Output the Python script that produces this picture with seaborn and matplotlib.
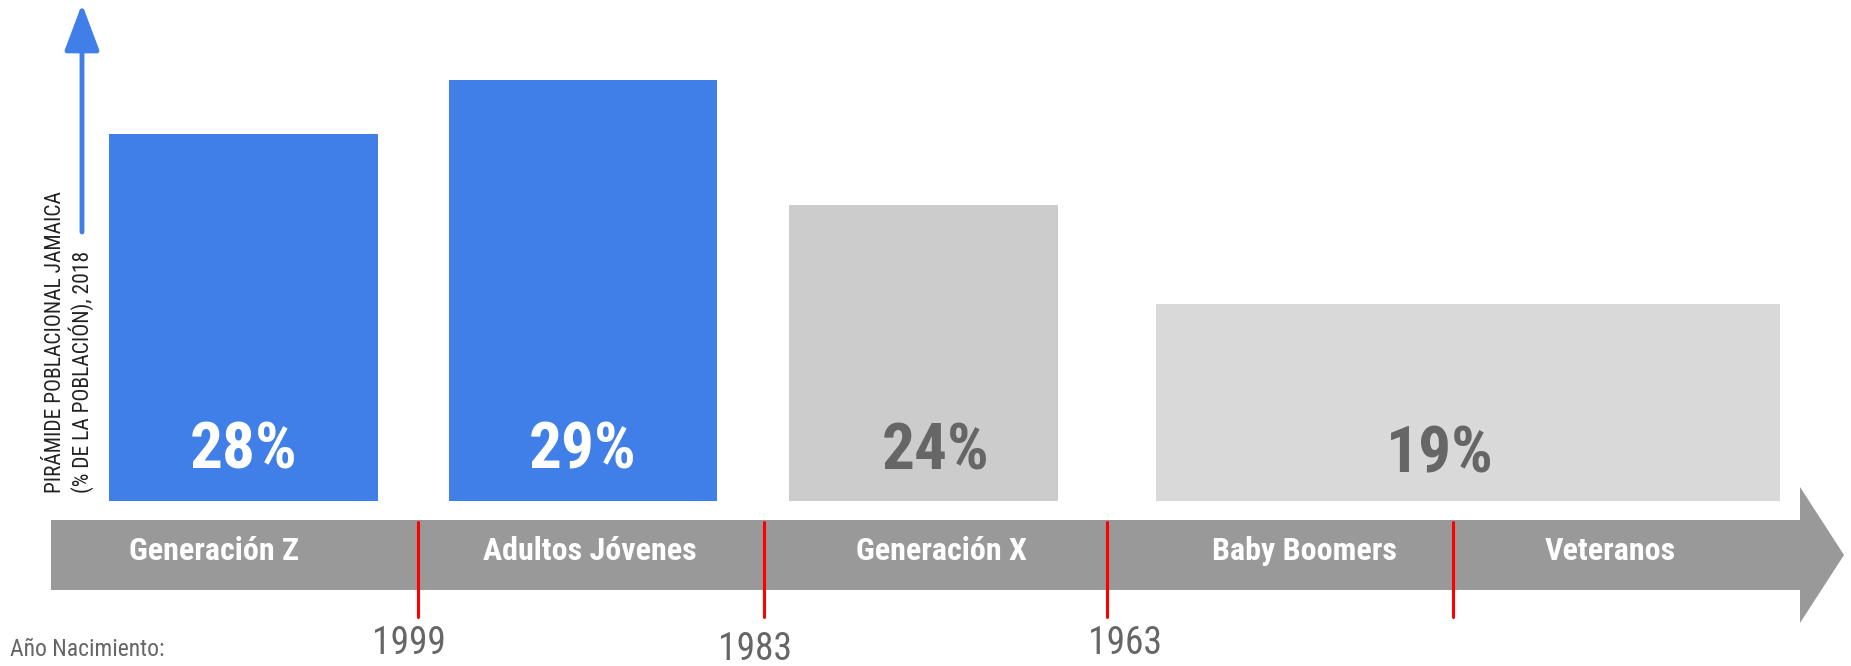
import numpy as np
import matplotlib
matplotlib.use("Agg")
import matplotlib.pyplot as plt
from matplotlib.patches import Polygon
import seaborn as sns

# data
generations = ["Generación Z", "Adultos Jóvenes", "Generación X", "Baby Boomers", "Veteranos"]
pct_labels = ["28%", "29%", "24%", "19%"]
bar_heights = [25.3, 29.0, 20.4, 13.6]   # drawn heights (same scale as the 29% bar)
birth_years = ["1999", "1983", "1963", ""]
ylabel_lines = ["PIRÁMIDE POBLACIONAL JAMAICA", "(% DE LA POBLACIÓN), 2018"]

# layout (pixel units of the 1851x666 canvas)
bar_left = [109, 449, 789, 1156]
bar_right = [378, 717, 1058, 1780]
pct_pos = [(244, 3.45), (583, 3.45), (936, 3.38), (1440, 3.17)]
label_x = [214, 590, 941, 1304, 1610]
divider_x = [418, 764, 1107, 1453]
year_pos = [(409, 644), (755, 650), (1125, 644)]

BLUE = "#3F7FE7"
bar_colors = [BLUE, BLUE, "#CCCCCC", "#D9D9D9"]
pct_colors = ["white", "white", "#666666", "#666666"]

sns.set_theme(style="white")
FAM = ["Roboto Condensed", "Roboto", "DejaVu Sans"]
plt.rcParams["font.family"] = FAM

fig = plt.figure(figsize=(18.51, 6.66), dpi=100)

# background axes in pixel coordinates for the timeline decoration
bg = fig.add_axes([0, 0, 1, 1])
bg.set_xlim(0, 1851)
bg.set_ylim(666, 0)
bg.axis("off")

# bars
axb = fig.add_axes([0, (666 - 501) / 666, 1, 501 / 666])
sns.barplot(x=generations[:4], y=bar_heights, hue=generations[:4], palette=bar_colors,
            saturation=1, legend=False, errorbar=None, linewidth=0, ax=axb)
for p, l, r in zip(axb.patches, bar_left, bar_right):
    p.set_x(l)
    p.set_width(r - l)
axb.set_xlim(0, 1851)
axb.set_ylim(0, 34.5)
axb.axis("off")
axb.patch.set_alpha(0)

for (x, y), t, c in zip(pct_pos, pct_labels, pct_colors):
    axb.text(x, y, t, ha="center", va="center", fontsize=47,
             fontweight="bold", color=c)

# timeline arrow band
band = Polygon([(51, 520), (1800, 520), (1800, 487), (1844, 555), (1800, 623),
                (1800, 590), (51, 590)], closed=True, facecolor="#999999",
               edgecolor="none", zorder=1)
bg.add_patch(band)

for x, g in zip(label_x, generations):
    bg.text(x, 551, g, ha="center", va="center", fontsize=23, fontweight="bold",
            color="white", zorder=3)

for x in divider_x:
    bg.plot([x, x], [522, 617], color="#FF0000", lw=2.2, zorder=2)

for (x, y), yr in zip(year_pos, birth_years):
    bg.text(x, y, yr, ha="center", va="center", fontsize=27, color="#666666")

bg.text(10, 650, "Año Nacimiento:", ha="left", va="center", fontsize=17, color="#666666")

# vertical axis arrow and label
bg.annotate("", xy=(82, 4), xytext=(82, 232),
            arrowprops=dict(arrowstyle="-|>,head_length=2.4,head_width=0.9",
                            color=BLUE, lw=3.5, shrinkA=0, shrinkB=0))
bg.text(55, 493, ylabel_lines[0], rotation=90, ha="center", va="bottom",
        fontsize=15.5, color="#222222")
bg.text(81, 493, ylabel_lines[1], rotation=90, ha="center", va="bottom",
        fontsize=15.5, color="#222222")

fig.savefig("out.png", dpi=100)
